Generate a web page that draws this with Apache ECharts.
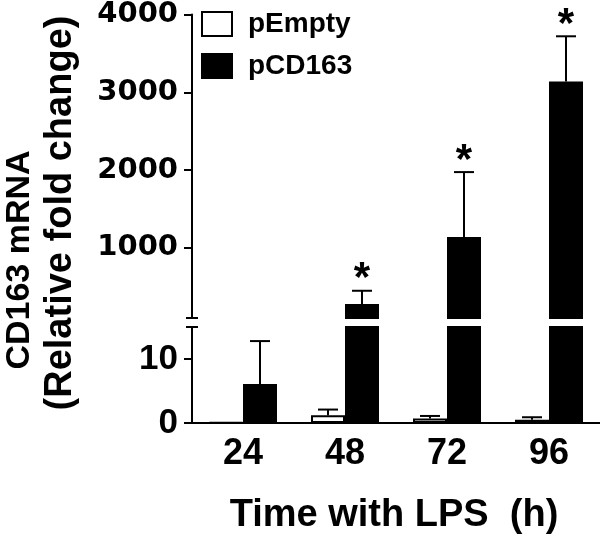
<!DOCTYPE html>
<html><head><meta charset="utf-8">
<script src="https://cdn.jsdelivr.net/npm/echarts@6/dist/echarts.min.js"></script>
<style>html,body{margin:0;padding:0;background:#fff}#c{width:600px;height:538px}</style>
</head><body><div id="c"></div>
<script>
// ---- data ----
const categories = ['24', '48', '72', '96'];
const seriesNames = ['pEmpty', 'pCD163'];
const pEmptyMean  = [0.1, 1.2, 0.7, 0.5];
const pEmptyUpper = [0.1, 2.1, 1.1, 0.9];
const pCD163Mean  = [6.1, 280, 1140, 3140];
const pCD163Upper = [12.8, 450, 1975, 3720];
const pCD163Sig   = [false, true, true, true];
const lowerTicks = [0, 10];
const upperTicks = [1000, 2000, 3000, 4000];
const lowerRange = [0, 15];
const upperRange = [100, 4000];
const xTitle = 'Time with LPS  (h)';
const yTitle1 = 'CD163 mRNA';
const yTitle2 = '(Relative fold change)';

// ---- layout / style ----
const GL = 192, GW = 408;
const BAR_W = 34;
const ARIAL = 'Liberation Sans, Arial, sans-serif';
const WIDE = 'DejaVu Sans, sans-serif';

const chart = echarts.init(document.getElementById('c'), null, {renderer: 'canvas'});

const means = [pEmptyMean, pCD163Mean];
const uppers = [pEmptyUpper, pCD163Upper];
const errData = [];
means.forEach((m, g) => m.forEach((v, i) => errData.push([i, v, uppers[g][i], g, (g === 1 && pCD163Sig[i]) ? 1 : 0])));

function errRender(which) {
  return function (params, api) {
    const i = api.value(0), mean = api.value(1), up = api.value(2), g = api.value(3), sig = api.value(4);
    if (up <= mean) return null;
    if (which === 'lower' && up > lowerRange[1]) return null;
    if (which === 'upper' && mean < upperRange[0]) return null;
    const p0 = api.coord([i, mean]);
    const p1 = api.coord([i, up]);
    const x = p0[0] + (g === 0 ? -1 : 1) * BAR_W / 2;
    const st = {stroke: '#000', lineWidth: 2};
    const children = [
      {type: 'line', shape: {x1: x, y1: p0[1], x2: x, y2: p1[1]}, style: st},
      {type: 'line', shape: {x1: x - 10, y1: p1[1], x2: x + 10, y2: p1[1]}, style: st}
    ];
    if (sig) {
      children.push({type: 'text', x: x, y: p1[1] - 11,
        style: {text: '*', font: 'bold 42px ' + ARIAL, fill: '#000', align: 'center', verticalAlign: 'middle'}});
    }
    return {type: 'group', children: children};
  };
}

const barBase = (name, color) => ({
  type: 'bar', name: name, barWidth: BAR_W, barGap: '0%', clip: true,
  itemStyle: {color: color, borderColor: '#000', borderWidth: 2},
  emphasis: {disabled: true}
});

const option = {
  animation: false,
  backgroundColor: '#fff',
  grid: [
    {left: GL, width: GW, top: 327, height: 96},
    {left: GL, width: GW, top: 14, height: 304}
  ],
  legend: {
    orient: 'vertical', left: 201, top: 10, padding: 0,
    itemWidth: 30, itemHeight: 24, itemGap: 14, icon: 'rect',
    selectedMode: false, data: seriesNames,
    itemStyle: {borderColor: '#000', borderWidth: 2},
    textStyle: {fontFamily: ARIAL, fontWeight: 'bold', fontSize: 28, color: '#000', padding: [0, 0, 0, 11]}
  },
  xAxis: [
    {type: 'category', gridIndex: 0, data: categories,
     axisLine: {lineStyle: {color: '#000', width: 2}},
     axisTick: {alignWithLabel: true, length: 9, lineStyle: {color: '#000', width: 2}},
     axisLabel: {fontFamily: ARIAL, fontWeight: 'bold', fontSize: 36, color: '#000', margin: 13}},
    {type: 'category', gridIndex: 1, data: categories, show: false}
  ],
  yAxis: [
    {type: 'value', gridIndex: 0, min: lowerRange[0], max: lowerRange[1], interval: 5,
     splitLine: {show: false},
     axisLine: {show: true, lineStyle: {color: '#000', width: 2}},
     axisTick: {show: true, length: 8, customValues: lowerTicks, lineStyle: {color: '#000', width: 2}},
     axisLabel: {customValues: lowerTicks, formatter: v => String(v),
       fontFamily: ARIAL, fontWeight: 'bold', fontSize: 35, color: '#000', margin: 14}},
    {type: 'value', gridIndex: 1, min: upperRange[0], max: upperRange[1],
     splitLine: {show: false},
     axisLine: {show: true, lineStyle: {color: '#000', width: 2}},
     axisTick: {show: true, length: 8, customValues: upperTicks, lineStyle: {color: '#000', width: 2}},
     axisLabel: {customValues: upperTicks, formatter: v => String(v),
       fontFamily: WIDE, fontWeight: 'bold', fontSize: 29, color: '#000', margin: 14}}
  ],
  series: [
    Object.assign(barBase(seriesNames[0], '#fff'), {xAxisIndex: 0, yAxisIndex: 0, data: pEmptyMean}),
    Object.assign(barBase(seriesNames[1], '#000'), {xAxisIndex: 0, yAxisIndex: 0, data: pCD163Mean}),
    Object.assign(barBase(seriesNames[0], '#fff'), {xAxisIndex: 1, yAxisIndex: 1,
      data: pEmptyMean.map(v => v > upperRange[0] ? v : '-')}),
    Object.assign(barBase(seriesNames[1], '#000'), {xAxisIndex: 1, yAxisIndex: 1,
      data: pCD163Mean.map(v => v > upperRange[0] ? v : '-')}),
    {type: 'custom', xAxisIndex: 0, yAxisIndex: 0, renderItem: errRender('lower'), data: errData, z: 5, silent: true},
    {type: 'custom', xAxisIndex: 1, yAxisIndex: 1, renderItem: errRender('upper'), data: errData, z: 5, silent: true}
  ],
  graphic: [
    {type: 'text', x: 20, y: 260, rotation: Math.PI / 2,
     style: {text: yTitle1, font: 'bold 34px ' + ARIAL, fill: '#000', align: 'center', verticalAlign: 'middle'}},
    {type: 'text', x: 61, y: 213, rotation: Math.PI / 2,
     style: {text: yTitle2, font: 'bold 38px ' + ARIAL, fill: '#000', align: 'center', verticalAlign: 'middle'}},
    {type: 'text', x: GL + GW / 2 - 2, y: 516,
     style: {text: xTitle, font: 'bold 38px ' + ARIAL, fill: '#000', align: 'center', verticalAlign: 'middle'}}
  ]
};
chart.setOption(option);

// axis break marks, positioned through the axes
const yLowTop = chart.convertToPixel({yAxisIndex: 0}, lowerRange[1]);
const yUpBot = chart.convertToPixel({yAxisIndex: 1}, upperRange[0]);
chart.setOption({graphic: option.graphic.concat([
  {type: 'line', shape: {x1: GL - 6, y1: yLowTop, x2: GL + 6, y2: yLowTop}, style: {stroke: '#000', lineWidth: 2}},
  {type: 'line', shape: {x1: GL - 6, y1: yUpBot, x2: GL + 6, y2: yUpBot}, style: {stroke: '#000', lineWidth: 2}}
])});
</script>
</body></html>
